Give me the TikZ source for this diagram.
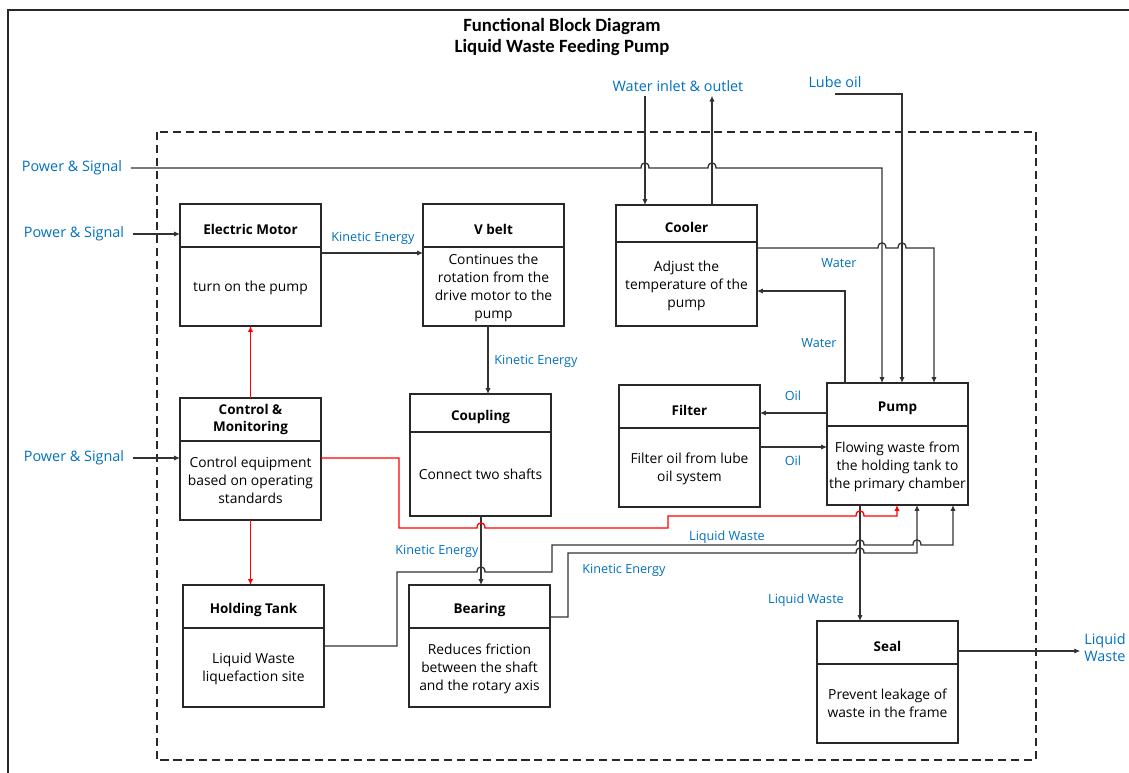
\documentclass[tikz,border=0pt]{standalone}
\usepackage{fontspec}
\setmainfont{Open Sans}
\newfontfamily\titlefont{Carlito}
\usepackage{tikz}
\usetikzlibrary{positioning,arrows.meta}

\definecolor{labelblue}{RGB}{0,112,192}
\definecolor{boxgray}{RGB}{40,40,40}
\definecolor{linegray}{RGB}{50,50,50}

% small bump where a line jumps over another one
\newcommand{\hopat}[2]{-- (#1-4,#2) .. controls +(0,-7) and +(0,-7) .. (#1+4,#2)}

\tikzset{
  >={Latex[length=5pt,width=4.5pt]},
  boxhead/.style={draw=boxgray, line width=1.5pt, outer sep=0pt, minimum width=42.3mm,
    minimum height=12.9mm, align=center, text height=15pt, font=\bfseries\fontsize{11.5}{15.3}\selectfont},
  boxbody/.style={draw=boxgray, line width=1.5pt, outer sep=0pt, minimum width=42.3mm,
    minimum height=23.7mm, align=center, inner xsep=1pt, text depth=-4pt, font=\fontsize{11.8}{15.3}\selectfont},
  flow/.style={draw=linegray, line width=1.1pt, ->},
  ctrl/.style={draw=red, line width=1.1pt, ->},
  biglabel/.style={text=labelblue, font=\fontsize{12.3}{14.5}\selectfont},
  smalllabel/.style={text=labelblue, font=\fontsize{10.8}{13}\selectfont},
}

\begin{document}
\begin{tikzpicture}[x=0.3mm,y=-0.3mm]
      \useasboundingbox (0,0) rectangle (1129,773);

      \draw[line width=1.2pt, draw=boxgray] (8,780) -- (8,10) -- (1135,10);
      \draw[line width=1.5pt, draw=boxgray, dash pattern=on 7pt off 4pt] (157,132) rectangle (1036,760);

      \node[font=\titlefont\bfseries\fontsize{16}{18.7}\selectfont, align=center] (title) at (562,37)
        {Functional Block Diagram\\Liquid Waste Feeding Pump};

      % blocks
      \node[boxhead, anchor=north west] (motor) at (180,204) {Electric Motor};
      \node[boxbody, below=0pt of motor] (motorb) {turn on the pump};

      \node[boxhead, anchor=north west] (vbelt) at (423,204) {V belt};
      \node[boxbody, below=0pt of vbelt] (vbeltb) {Continues the\\rotation from the\\drive motor to the\\pump};

      \node[boxhead, anchor=north west, minimum height=11.1mm] (cooler) at (616,205) {Cooler};
      \node[boxbody, below=0pt of cooler, minimum height=25.2mm] (coolerb) {Adjust the\\temperature of the\\pump};

      \node[boxhead, anchor=north west, text height={}] (control) at (180,398) {Control \&\\Monitoring};
      \node[boxbody, below=0pt of control] (controlb) {Control equipment\\based on operating\\standards};

      \node[boxhead, anchor=north west, minimum height=11.4mm] (coupling) at (410,394) {Coupling};
      \node[boxbody, below=0pt of coupling, minimum height=25.2mm] (couplingb) {Connect two shafts};

      \node[boxhead, anchor=north west] (filter) at (619,385) {Filter};
      \node[boxbody, below=0pt of filter] (filterb) {Filter oil from lube\\oil system};

      \node[boxhead, anchor=north west] (pump) at (827,383) {Pump};
      \node[boxbody, below=0pt of pump] (pumpb) {Flowing waste from\\the holding tank to\\the primary chamber};

      \node[boxhead, anchor=north west] (holding) at (183,585) {Holding Tank};
      \node[boxbody, below=0pt of holding] (holdingb) {Liquid Waste\\liquefaction site};

      \node[boxhead, anchor=north west] (bearing) at (409,585) {Bearing};
      \node[boxbody, below=0pt of bearing] (bearingb) {Reduces friction\\between the shaft\\and the rotary axis};

      \node[boxhead, anchor=north west] (seal) at (817,621) {Seal};
      \node[boxbody, below=0pt of seal] (sealb) {Prevent leakage of\\waste in the frame};

      % outside labels
      \node[biglabel] (psig1) at (72,168) {Power \& Signal};
      \node[biglabel] (psig2) at (74,234) {Power \& Signal};
      \node[biglabel] (psig3) at (74,458) {Power \& Signal};
      \node[biglabel] (water) at (678,86) {Water inlet \& outlet};
      \node[biglabel] (lube) at (835,82) {Lube oil};
      \node[biglabel, align=left] (liqout) at (1105,648) {Liquid\\Waste};

      % line labels
      \node[smalllabel] (ke1) at (373,238) {Kinetic Energy};
      \node[smalllabel] (ke2) at (536,361) {Kinetic Energy};
      \node[smalllabel] (ke3) at (437,551) {Kinetic Energy};
      \node[smalllabel] (ke4) at (624,570) {Kinetic Energy};
      \node[smalllabel] (w1) at (839,263) {Water};
      \node[smalllabel] (w2) at (819,343) {Water};
      \node[smalllabel] (oil1) at (793,396) {Oil};
      \node[smalllabel] (oil2) at (793,461) {Oil};
      \node[smalllabel] (lw1) at (727,537) {Liquid Waste};
      \node[smalllabel] (lw2) at (806,600) {Liquid Waste};

      % connectors
      \draw[flow] ([xshift=4pt]psig1.east) \hopat{645}{168} \hopat{712}{168} -- (882,168) -- (pump.north -| 882,0);
      \draw[flow] ([xshift=4pt]psig2.east) -- (motor.west |- psig2.east);
      \draw[flow] ([xshift=4pt]psig3.east) -- (controlb.west |- psig3.east);
      \draw[flow] (water.south -| 645,0) -- (cooler.north -| 645,0);
      \draw[flow] (cooler.north -| 712,0) -- (water.south -| 712,0);
      \draw[flow] ([yshift=-2pt]lube.south) -| (pump.north -| 902,0);
      \draw[flow] (coolerb.east |- 0,248) \hopat{882}{248} \hopat{902}{248} -- (934,248) -- (pump.north -| 934,0);
      \draw[flow] (pump.north -| 845,0) -- (845,291) -- (coolerb.east |- 0,291);
      \draw[flow] (pump.west |- 0,413) -- (filter.east |- 0,413);
      \draw[flow] (filterb.east |- 0,447) -- (pumpb.west |- 0,447);
      \draw[flow] (motorb.east |- 0,253) -- (vbeltb.west |- 0,253);
      \draw[flow] (vbeltb.south -| 488,0) -- (coupling.north -| 488,0);
      \draw[flow] (couplingb.south -| 481,0) -- (bearing.north -| 481,0);
      \draw[flow] (pumpb.south -| 860,0) -- (seal.north -| 860,0);
      \draw[flow] (seal.east |- 0,651) -- (liqout.west |- 0,651);
      \draw[flow] (holdingb.east |- 0,646) -- (397,646) -- (397,572) \hopat{481}{572} -- (552,572) -- (552,545)
        \hopat{860}{545} \hopat{917}{545} -- (953,545) -- (pumpb.south -| 953,0);
      \draw[flow] (bearing.east |- 0,617) -- (568,617) -- (568,553) \hopat{860}{553} -- (917,553) -- (pumpb.south -| 917,0);

      \draw[ctrl] (control.north) -- (motorb.south);
      \draw[ctrl] (controlb.south) -- (controlb.south |- holding.north);
      \draw[ctrl] (controlb.east |- 0,458) -- (399,458) -- (399,528) \hopat{481}{528} -- (668,528) -- (668,516)
        \hopat{860}{516} -- (897,516) -- (pumpb.south -| 897,0);
\end{tikzpicture}
\end{document}
